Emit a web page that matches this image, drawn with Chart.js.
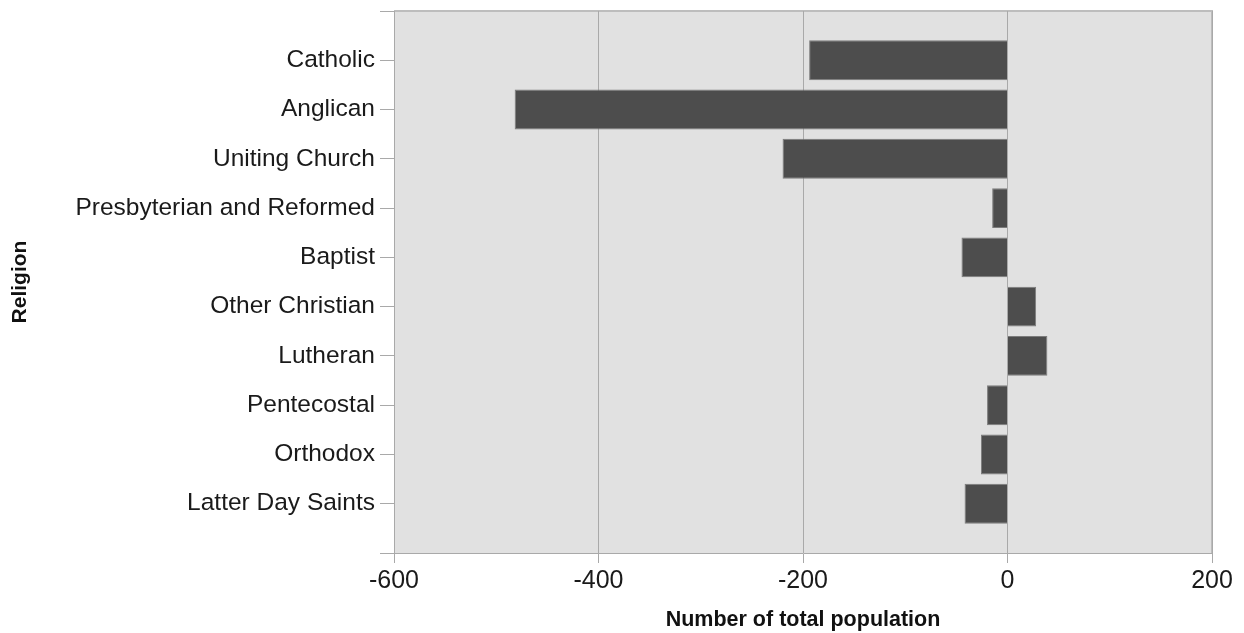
<!DOCTYPE html>
<html>
<head>
<meta charset="utf-8">
<script src="https://cdn.jsdelivr.net/npm/chart.js@4/dist/chart.umd.min.js"></script>
<style>
  html, body { margin: 0; padding: 0; background: #fff; }
  #wrap { width: 1244px; height: 633px; }
</style>
</head>
<body>
<div id="wrap"><canvas id="myChart"></canvas></div>
<script>
const religions = [
  "Catholic",
  "Anglican",
  "Uniting Church",
  "Presbyterian and Reformed",
  "Baptist",
  "Other Christian",
  "Lutheran",
  "Pentecostal",
  "Orthodox",
  "Latter Day Saints",
];
const change = [-194, -482, -220, -15, -45, 28, 39, -20, -26, -42];
const xTicks = [-600, -400, -200, 0, 200];

// blank slots top and bottom give the extra space around the bars
const labels = ["", ...religions, ""];
const values = [null, ...change, null];

const gridGray = "#a9a9a9";

// grey panel and light frame behind the bars
const panel = {
  id: "panel",
  beforeDraw(chart) {
    const { ctx, chartArea: a } = chart;
    ctx.save();
    ctx.fillStyle = "#e1e1e1";
    ctx.fillRect(a.left, a.top, a.right - a.left, a.bottom - a.top);
    ctx.strokeStyle = "#bdbdbd";
    ctx.lineWidth = 2;
    ctx.beginPath();
    ctx.moveTo(a.left, a.top);
    ctx.lineTo(a.right, a.top);
    ctx.lineTo(a.right, a.bottom);
    ctx.stroke();
    ctx.restore();
  },
};

const ctx = document.getElementById("myChart");

new Chart(ctx, {
  type: "bar",
  data: {
    labels: labels,
    datasets: [
      {
        data: values,
        backgroundColor: "#4d4d4d",
        borderColor: "#7c7c7c",
        borderWidth: 1,
        barPercentage: 0.81,
        categoryPercentage: 1,
      },
    ],
  },
  options: {
    indexAxis: "y",
    responsive: true,
    maintainAspectRatio: false,
    animation: false,
    layout: { padding: { top: 11, right: 32, left: 0, bottom: 0 } },
    scales: {
      x: {
        type: "linear",
        min: -600,
        max: 200,
        afterBuildTicks: (scale) => {
          scale.ticks = xTicks.map((v) => ({ value: v }));
        },
        afterFit: (scale) => {
          scale.height = 80;
        },
        grid: {
          color: gridGray,
          lineWidth: 1,
          tickLength: 10,
        },
        border: { color: gridGray, width: 1 },
        ticks: {
          color: "#1a1a1a",
          padding: 3,
          font: { family: "Liberation Sans, Arial, sans-serif", size: 25 },
        },
        title: {
          display: true,
          text: "Number of total population",
          color: "#111",
          padding: { top: 0, bottom: 0 },
          font: { family: "Liberation Sans, Arial, sans-serif", size: 21.5, weight: "bold" },
        },
      },
      y: {
        offset: false,
        afterFit: (scale) => {
          scale.width = 394;
          // no extra room for half a label at the ends
          scale.paddingTop = 0;
          scale.paddingBottom = 0;
        },
        grid: {
          offset: false,
          drawOnChartArea: false,
          color: gridGray,
          tickLength: 14,
        },
        border: { color: gridGray, width: 1 },
        ticks: {
          color: "#1a1a1a",
          padding: 5,
          autoSkip: false,
          font: { family: "Liberation Sans, Arial, sans-serif", size: 24.5 },
        },
        title: {
          display: true,
          text: "Religion",
          color: "#111",
          padding: { top: 8, bottom: 0 },
          font: { family: "Liberation Sans, Arial, sans-serif", size: 21, weight: "bold" },
        },
      },
    },
    plugins: {
      legend: { display: false },
      tooltip: { enabled: false },
    },
  },
  plugins: [panel],
});
</script>
</body>
</html>
